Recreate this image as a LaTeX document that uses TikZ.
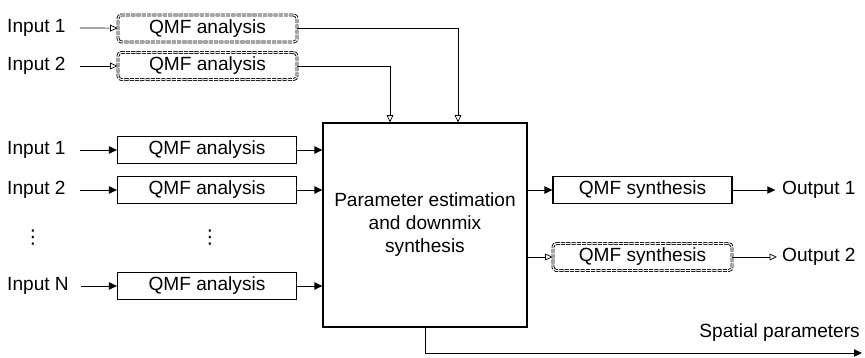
\documentclass[tikz,border=0pt]{standalone}
\usepackage{fontspec}
\setmainfont{Liberation Sans}
\newfontfamily\symfont{DejaVu Sans}
\usetikzlibrary{arrows.meta}

\tikzset{
    qmf/.style={draw, line width=1pt, minimum width=5.37cm, minimum height=0.81cm, inner sep=0pt},
    qmfdash/.style={qmf, line width=0.75pt, double, double distance=1pt, dash pattern=on 3.5pt off 1pt, rounded corners=3pt},
    sig/.style={line width=0.8pt, -{Triangle[length=0.24cm, width=0.22cm]}},
    hsig/.style={line width=0.6pt, -{Triangle[open, length=0.22cm, width=0.2cm]}},
    lbl/.style={inner sep=0pt}
}

\begin{document}
\begin{tikzpicture}[x=0.03cm, y=-0.03cm, font=\fontsize{16.3pt}{19.6pt}\selectfont]
    \useasboundingbox (0,0) rectangle (865,357);

    \node[qmfdash] (qa1) at (207.5,28.5) {QMF analysis};
    \node[qmfdash] (qa2) at (207.5,66) {QMF analysis};
    \node[qmf] (qa3) at (207,150) {QMF analysis};
    \node[qmf] (qa4) at (207,190) {QMF analysis};
    \node[qmf] (qan) at (207,286) {QMF analysis};
    \node[draw, line width=1pt, minimum size=6.12cm, align=center] (pe) at (425,225) {Parameter estimation\\and downmix\\synthesis};
    \node[qmf] (qs1) at (642.5,190) {QMF synthesis};
    \node[qmfdash] (qs2) at (642.5,257) {QMF synthesis};

    \node[lbl, anchor=west] (in1) at (7,28) {Input 1};
    \node[lbl, anchor=west] (in2) at (7,66) {Input 2};
    \node[lbl, anchor=west] (in3) at (7,150) {Input 1};
    \node[lbl, anchor=west] (in4) at (7,190) {Input 2};
    \node[lbl, anchor=west] (inn) at (7,286) {Input N};
    \node[lbl] (dotl) at (33,238) {\symfont ⋮};
    \node[lbl] (dotm) at (210,238) {\symfont ⋮};
    \node[lbl, anchor=west] (out1) at (782,190) {Output 1};
    \node[lbl, anchor=west] (out2) at (782,257) {Output 2};
    \node[lbl, anchor=east] (sp) at (860,333) {Spatial parameters};
    \coordinate (spend) at (862,353);

    \draw[hsig] ([xshift=0.42cm]in1.east) -- (qa1);
    \draw[hsig] ([xshift=0.42cm]in2.east) -- (qa2);
    \draw[sig] ([xshift=0.42cm]in3.east) -- (qa3);
    \draw[sig] ([xshift=0.42cm]in4.east) -- (qa4);
    \draw[sig] ([xshift=0.36cm]inn.east) -- (qan);

    \draw[hsig] (qa1.east) -| ([xshift=0.99cm]pe.north);
    \draw[hsig] (qa2.east) -| ([xshift=-1.05cm]pe.north);
    \draw[sig] (qa3) -- (pe.west |- qa3);
    \draw[sig] (qa4) -- (pe.west |- qa4);
    \draw[sig] (qan) -- (pe.west |- qan);

    \draw[sig] (pe.east |- qs1) -- (qs1);
    \draw[hsig] (pe.east |- qs2) -- (qs2);
    \draw[sig] (qs1) -- ([xshift=-0.2cm]out1.west);
    \draw[hsig] (qs2) -- ([xshift=-0.15cm]out2.west);
    \draw[sig] (pe.south) |- (spend);
\end{tikzpicture}
\end{document}
